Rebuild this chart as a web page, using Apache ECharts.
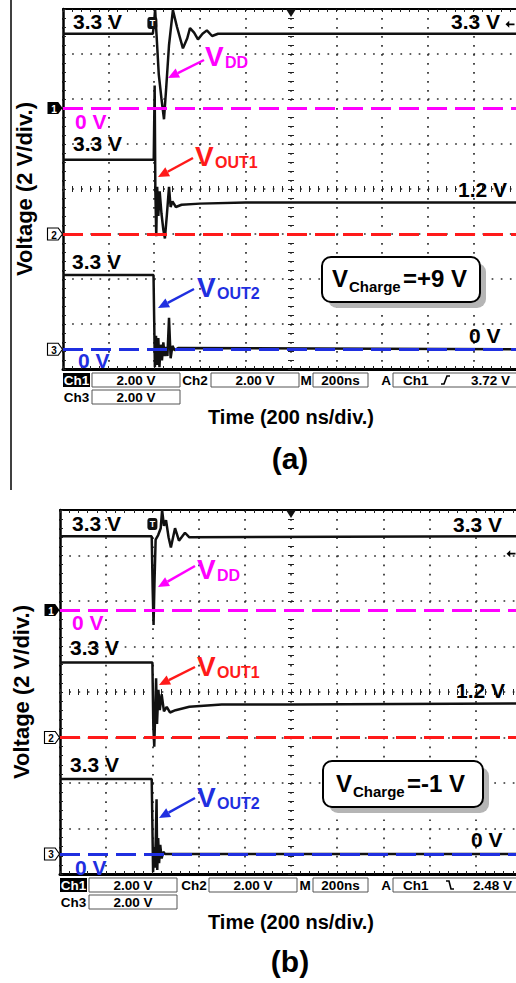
<!DOCTYPE html>
<html>
<head>
<meta charset="utf-8">
<script src="https://cdn.jsdelivr.net/npm/echarts@6/dist/echarts.min.js"></script>
<style>
html, body { margin: 0; padding: 0; background: #fff; }
#main { width: 516px; height: 983px; }
</style>
</head>
<body>
<div id="main"></div>
<script>
// time in ns (200 ns/div, 10 div), voltages in V (2 V/div, 8 div)
// panel (a): V_charge = +9 V
var tVddA  = [0, 394, 399, 404, 410, 420, 432, 443, 452, 465, 482, 500, 526, 545, 557, 575, 592, 612, 631, 654, 680, 2000];
var vVddA  = [3.3, 3.3, 3.7, 4.4, 3.3, 1.5, 0.4, -0.5, 0.8, 2.8, 4.35, 3.6, 2.65, 3.1, 3.55, 3.35, 3.05, 3.3, 3.45, 3.2, 3.3, 3.3];
var tOut1A = [0, 398, 402, 405, 409, 413, 418, 424, 432, 440, 447, 456, 465, 472, 480, 495, 520, 600, 800, 2000];
var vOut1A = [3.3, 3.3, 6.6, 2.0, -0.1, 2.1, 0.8, 1.9, 0.9, 0.2, -0.2, 0.9, 2.1, 1.2, 1.45, 1.2, 1.3, 1.35, 1.4, 1.4];
var tOut2A = [0, 397, 403, 408, 413, 418, 423, 428, 434, 440, 446, 452, 458, 465, 472, 480, 490, 505, 2000];
var vOut2A = [3.3, 3.3, -0.8, 0.6, -0.7, 0.5, -0.8, 0.2, -0.5, 0.3, -0.3, 0.1, -0.3, 1.4, -0.4, 0.15, -0.05, 0.05, 0];

// panel (b): V_charge = -1 V
var tVddB  = [0, 397, 401, 405, 409, 414, 425, 436, 442, 450, 459, 470, 480, 498, 515, 541, 560, 2000];
var vVddB  = [3.25, 3.25, 1.0, -0.65, 1.2, 3.1, 3.3, 3.6, 4.4, 3.7, 3.95, 3.2, 2.75, 3.6, 3.05, 3.4, 3.2, 3.25];
var tOut1B = [0, 400, 404, 408, 412, 416, 420, 426, 432, 440, 450, 462, 476, 500, 560, 700, 1000, 2000];
var vOut1B = [3.3, 3.3, 0.5, -0.4, 1.0, 2.6, 0.6, 2.1, 1.2, 1.9, 1.15, 1.35, 1.1, 1.2, 1.35, 1.45, 1.45, 1.5];
var tOut2B = [0, 397, 403, 407, 411, 415, 418, 421, 425, 429, 434, 440, 447, 455, 2000];
var vOut2B = [3.3, 3.3, -0.8, 0.3, -0.6, 0.8, 2.4, -0.7, 0.7, -0.4, 0.4, -0.2, 0.1, 0, 0];

// channel ground positions (divisions from bottom) and scope settings
var chGround = [5.8, 3.0, 0.44];
var chNames = ['1', '2', '3'];
var chScale = ['2.00 V', '2.00 V', '2.00 V'];
var timeScale = '200ns';
var trigTime = [392, 400];
var trigLevel = [3.72, 2.48];
var trigText = ['3.72 V', '2.48 V'];
var chargeText = ['=+9 V', '=-1 V'];
var panelTag = ['(a)', '(b)'];

var MAG = '#ff00ff', RED = '#ff1a1a', BLUE = '#1f2fe0', BLK = '#000';
var chColors = [MAG, RED, BLUE];
var FONT = '"Liberation Sans", Arial, sans-serif';

function zip(t, v) { return t.map(function (x, i) { return [x, v[i]]; }); }

var panels = [
  { left: 63, top: 9, width: 456, height: 360, traces: [zip(tVddA, vVddA), zip(tOut1A, vOut1A), zip(tOut2A, vOut2A)],
    labels: [['3.3 V', 73, 21, BLK], ['3.3 V', 451, 21, BLK], ['0 V', 75, 121, MAG], ['3.3 V', 73, 143, BLK],
             ['1.2 V', 458, 189, BLK], ['3.3 V', 72, 261, BLK], ['0 V', 469, 335, BLK], ['0 V', 78, 360, BLUE]],
    subs: [['DD', 205, 56, MAG], ['OUT1', 195, 156, RED], ['OUT2', 197, 287, BLUE]],
    arrows: [[204, 60, 168, 78, MAG], [193, 158, 158, 177, RED], [194, 289, 158, 308, BLUE]],
    box: [322, 257, 158, 45], boxText: [332, 278.5],
    status: { ch1: 63, box1: 92, ch2: 195, box2: 211, m: 306, box3: 313, a: 386, box4: 393, trig: 403, icon: 441, lvl: 471, rising: true },
    arrowOff: -9, tagY: 458 },
  { left: 60, top: 510, width: 462, height: 364, traces: [zip(tVddB, vVddB), zip(tOut1B, vOut1B), zip(tOut2B, vOut2B)],
    labels: [['3.3 V', 72, 523, BLK], ['3.3 V', 453, 524, BLK], ['0 V', 72, 622, MAG], ['3.3 V', 70, 647, BLK],
             ['1.2 V', 456, 690, BLK], ['3.3 V', 70, 764, BLK], ['0 V', 471, 839, BLK], ['0 V', 75, 867, BLUE]],
    subs: [['DD', 197, 569, MAG], ['OUT1', 197, 666, RED], ['OUT2', 197, 797, BLUE]],
    arrows: [[195, 566, 158, 587, MAG], [195, 667, 159, 685, RED], [195, 798, 159, 818, BLUE]],
    box: [323, 761, 160, 46], boxText: [336, 783],
    status: { ch1: 60, box1: 89, ch2: 194, box2: 209, m: 305, box3: 313, a: 386, box4: 393, trig: 403, icon: 446, lvl: 473, rising: false },
    arrowOff: -11, tagY: 961 }
];

function txt(s, x, y, size, color, align) {
  return { type: 'text', x: x, y: y, z: 100, silent: true,
    style: { text: s, fill: color, font: 'bold ' + size + 'px ' + FONT, align: align || 'left', verticalAlign: 'middle' } };
}
function arrow(x1, y1, x2, y2, color) {
  var a = Math.atan2(y2 - y1, x2 - x1), L = 11, W = 5;
  var bx = x2 - L * Math.cos(a), by = y2 - L * Math.sin(a);
  return [
    { type: 'line', z: 100, shape: { x1: x1, y1: y1, x2: bx, y2: by }, style: { stroke: color, lineWidth: 2.5 } },
    { type: 'polygon', z: 100, shape: { points: [[x2, y2], [bx - W * Math.sin(a), by + W * Math.cos(a)], [bx + W * Math.sin(a), by - W * Math.cos(a)]] }, style: { fill: color } }
  ];
}
function sbox(x, y, w) {
  return { type: 'rect', z: 100, shape: { x: x, y: y, width: w, height: 14 }, style: { fill: '#fff', stroke: '#555', lineWidth: 1 } };
}

var grids = [], xAxes = [], yAxes = [], series = [], graphics = [];
var DOT = '#2e2e2e';

function tickX(gi, pos, off, inside, line, lw) {
  return { gridIndex: gi, type: 'value', min: 0, max: 2000, interval: 200, position: pos, offset: off,
    axisLine: { show: line, onZero: false, lineStyle: { color: BLK, width: lw || 2 } },
    axisTick: { show: true, inside: inside, length: 3, lineStyle: { color: '#222', width: 1 } },
    minorTick: { show: true, splitNumber: 5, length: 3, lineStyle: { color: '#222', width: 1 } },
    axisLabel: { show: false }, splitLine: { show: false } };
}
function tickY(gi, pos, off, inside, line) {
  return { gridIndex: gi, type: 'value', min: -4, max: 4, interval: 1, position: pos, offset: off,
    axisLine: { show: line, onZero: false, lineStyle: { color: BLK, width: 2.5 } },
    axisTick: { show: true, inside: inside, length: 3, lineStyle: { color: '#222', width: 1 } },
    minorTick: { show: true, splitNumber: 5, length: 3, lineStyle: { color: '#222', width: 1 } },
    axisLabel: { show: false }, splitLine: { show: false } };
}

panels.forEach(function (p, gi) {
  grids.push({ left: p.left, top: p.top, width: p.width, height: p.height, show: false, outerBoundsMode: 'none' });
  var xi = xAxes.length, yi = yAxes.length;
  var dv = p.height / 40, dh = p.width / 50;
  // time axis: vertical graticule + title
  xAxes.push({ gridIndex: gi, type: 'value', min: 0, max: 2000, interval: 200, position: 'bottom',
    axisLine: { show: false, onZero: false }, axisTick: { show: false }, axisLabel: { show: false },
    splitLine: { show: true, lineStyle: { color: DOT, width: 1.7, type: [1.7, dv - 1.7] } },
    name: 'Time (200 ns/div.)', nameLocation: 'middle', nameGap: 38,
    nameTextStyle: { color: BLK, fontSize: 20, fontWeight: 'bold', fontFamily: FONT } });
  xAxes.push(tickX(gi, 'bottom', 0, true, true, 3));
  xAxes.push(tickX(gi, 'top', 0, true, true, 2));
  xAxes.push(tickX(gi, 'bottom', -p.height / 2, true, false));
  xAxes.push(tickX(gi, 'bottom', -p.height / 2, false, false));

  // division axis: horizontal graticule + left border + title
  var gy = tickY(gi, 'left', 0, true, true);
  gy.splitLine = { show: true, lineStyle: { color: DOT, width: 1.7, type: [1.7, dh - 1.7] } };
  gy.name = 'Voltage (2 V/div.)';
  gy.nameLocation = 'middle';
  gy.nameGap = 28;
  gy.nameTextStyle = { color: BLK, fontSize: 22, fontWeight: 'bold', fontFamily: FONT };
  yAxes.push(gy);
  yAxes.push(tickY(gi, 'left', -p.width / 2, true, false));
  yAxes.push(tickY(gi, 'left', -p.width / 2, false, false));
  // one hidden volt axis per channel, ground at chGround divisions
  chGround.forEach(function (g) {
    yAxes.push({ gridIndex: gi, type: 'value', min: -g * 2, max: 16 - g * 2, show: false });
  });

  p.traces.forEach(function (data, c) {
    var tag = {
      coord: [0, 0], symbol: 'path://M0,0L10,0L14,6L10,12L0,12Z', symbolSize: [15, 12], symbolOffset: [-8, 0],
      itemStyle: c === 0 ? { color: BLK } : { color: '#fff', borderColor: BLK, borderWidth: 1 },
      label: { show: true, formatter: chNames[c], color: c === 0 ? '#fff' : BLK, fontSize: 10, fontWeight: 'bold', offset: [-1, 1] }
    };
    var marks = [tag];
    if (c === 0) {
      marks.push({ coord: [trigTime[gi], 16 - chGround[0] * 2], symbol: 'roundRect', symbolSize: [10, 12], symbolOffset: [0, 14],
        itemStyle: { color: '#111' }, label: { show: true, formatter: 'T', color: '#fff', fontSize: 9, fontWeight: 'bold' } });
      marks.push({ coord: [1000, 16 - chGround[0] * 2], symbol: 'triangle', symbolRotate: 180, symbolSize: [10, 8], symbolOffset: [0, 4],
        itemStyle: { color: '#111' }, label: { show: false } });
      marks.push({ coord: [2000, trigLevel[gi]], symbol: 'path://M0,4L5,0L5,3L12,3L12,5L5,5L5,8Z', symbolSize: [9, 7], symbolOffset: [p.arrowOff, 0],
        itemStyle: { color: BLK }, label: { show: false } });
    }
    series.push({
      type: 'line', xAxisIndex: xi, yAxisIndex: yi + 3 + c, data: data, symbol: 'none', z: 3,
      lineStyle: { color: '#111', width: 2.5 },
      markLine: { silent: true, symbol: ['none', 'none'], label: { show: false }, z: 4,
        lineStyle: { color: chColors[c], width: 3, type: [20, 8] }, data: [{ yAxis: 0 }] },
      markPoint: { silent: true, z: 6, data: marks }
    });
  });

  // text annotations
  p.labels.forEach(function (l) { graphics.push(txt(l[0], l[1], l[2], 21, l[3])); });
  p.subs.forEach(function (s) {
    graphics.push(txt('V', s[1], s[2], 28, s[3]));
    graphics.push(txt(s[0], s[1] + 20, s[2] + 6, 16, s[3]));
  });
  p.arrows.forEach(function (a) { graphics = graphics.concat(arrow(a[0], a[1], a[2], a[3], a[4])); });

  // V_charge box
  var b = p.box;
  graphics.push({ type: 'rect', z: 99, shape: { x: b[0] + 6, y: b[1] + 6, width: b[2], height: b[3], r: 9 }, style: { fill: '#b5b5b5' } });
  graphics.push({ type: 'rect', z: 100, shape: { x: b[0], y: b[1], width: b[2], height: b[3], r: 9 }, style: { fill: '#fff', stroke: BLK, lineWidth: 2 } });
  graphics.push(txt('V', p.boxText[0], p.boxText[1], 24, BLK));
  graphics.push(txt('Charge', p.boxText[0] + 17, p.boxText[1] + 8, 15, BLK));
  graphics.push(txt(chargeText[gi], p.boxText[0] + 71, p.boxText[1], 24, BLK));

  // scope status bar
  var s = p.status, y1 = p.top + p.height + 4, y2 = y1 + 17;
  graphics.push({ type: 'rect', z: 100, shape: { x: s.ch1, y: y1, width: 27, height: 14 }, style: { fill: BLK } });
  graphics.push(txt('Ch1', s.ch1 + 13.5, y1 + 7.5, 13.5, '#fff', 'center'));
  graphics.push(sbox(s.box1, y1, 88));
  graphics.push(txt(chScale[0], s.box1 + 44, y1 + 7.5, 13.5, BLK, 'center'));
  graphics.push(txt('Ch2', s.ch2, y1 + 7.5, 13.5, BLK, 'center'));
  graphics.push(sbox(s.box2, y1, 88));
  graphics.push(txt(chScale[1], s.box2 + 44, y1 + 7.5, 13.5, BLK, 'center'));
  graphics.push(txt('M', s.m, y1 + 7.5, 13.5, BLK, 'center'));
  graphics.push(sbox(s.box3, y1, 55));
  graphics.push(txt(timeScale, s.box3 + 27.5, y1 + 7.5, 13.5, BLK, 'center'));
  graphics.push(txt('A', s.a, y1 + 7.5, 13.5, BLK, 'center'));
  graphics.push(sbox(s.box4, y1, 140));
  graphics.push(txt('Ch1', s.trig, y1 + 7.5, 13.5, BLK));
  graphics.push({ type: 'polyline', z: 101, shape: { points: s.rising
      ? [[s.icon, y1 + 11], [s.icon + 3, y1 + 11], [s.icon + 6, y1 + 3], [s.icon + 9, y1 + 3]]
      : [[s.icon, y1 + 3], [s.icon + 3, y1 + 3], [s.icon + 5, y1 + 11], [s.icon + 8, y1 + 11]] },
    style: { stroke: BLK, lineWidth: 1.6, fill: 'none' } });
  graphics.push(txt(trigText[gi], s.lvl, y1 + 7.5, 13.5, BLK));
  graphics.push(txt('Ch3', s.ch1 + 13.5, y2 + 7.5, 13.5, BLK, 'center'));
  graphics.push(sbox(s.box1, y2, 88));
  graphics.push(txt(chScale[2], s.box1 + 44, y2 + 7.5, 13.5, BLK, 'center'));

  graphics.push(txt(panelTag[gi], p.left + p.width / 2 - 1, p.tagY, 30, BLK, 'center'));
});

// thin frame line on the left of panel (a)
graphics.push({ type: 'line', z: 100, shape: { x1: 11, y1: 0, x2: 11, y2: 490 }, style: { stroke: BLK, lineWidth: 1.5 } });

var myChart = echarts.init(document.getElementById('main'), null, { renderer: 'svg' });
myChart.setOption({
  animation: false,
  backgroundColor: '#fff',
  grid: grids,
  xAxis: xAxes,
  yAxis: yAxes,
  series: series,
  graphic: graphics
});
</script>
</body>
</html>
